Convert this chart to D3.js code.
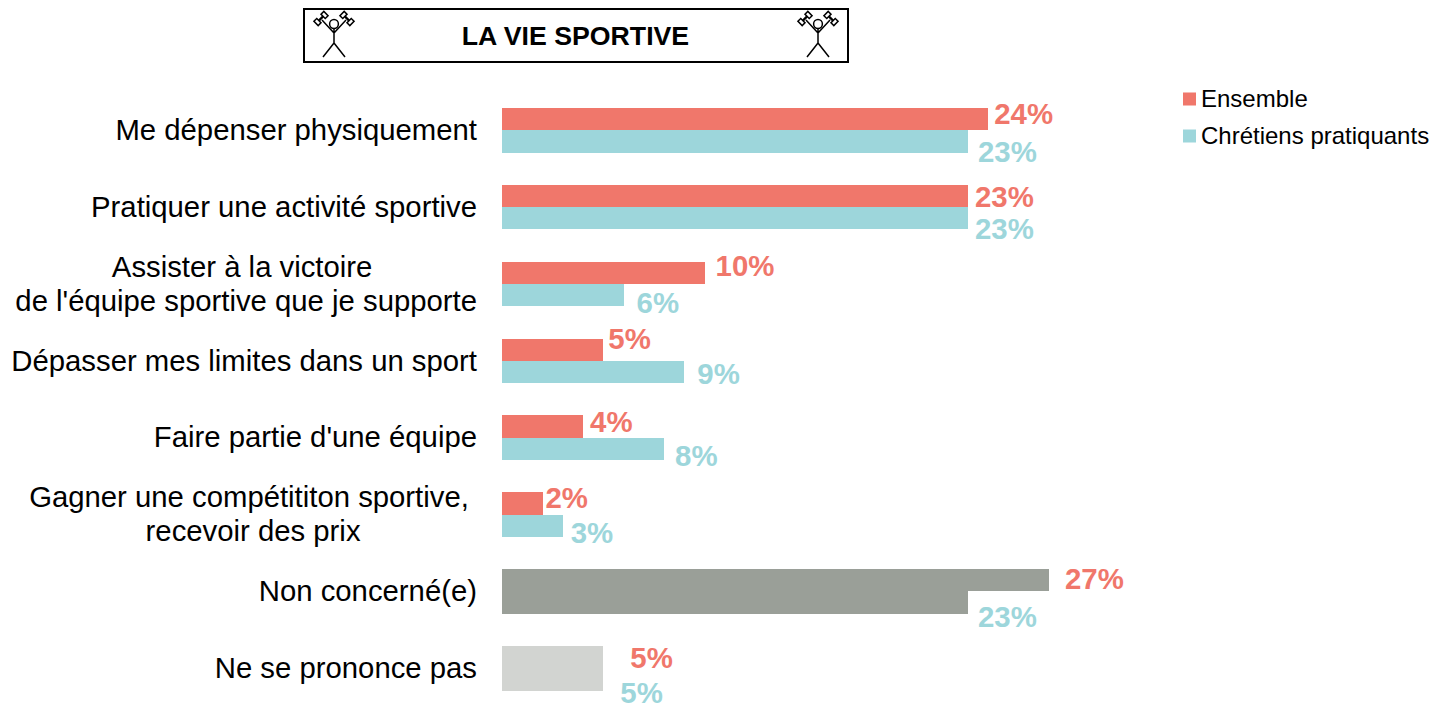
<!DOCTYPE html>
<html>
<head>
<meta charset="utf-8">
<script src="https://cdn.jsdelivr.net/npm/d3@7"></script>
<style>
  html, body { margin: 0; padding: 0; background: #fff; }
  text { font-family: "Liberation Sans", Arial, sans-serif; white-space: pre; }
</style>
</head>
<body>
<div id="chart"></div>
<script>
// Each inner list is one line of the label. Trailing space is in the original wrap.
const categories = [
  ["Me dépenser physiquement"],
  ["Pratiquer une activité sportive"],
  ["Assister à la victoire ", "de l'équipe sportive que je supporte"],
  ["Dépasser mes limites dans un sport"],
  ["Faire partie d'une équipe"],
  ["Gagner une compétititon sportive, ", "recevoir des prix"],
  ["Non concerné(e)"],
  ["Ne se prononce pas"]
];
const seriesNames = ["Ensemble", "Chrétiens pratiquants"];
const ensemble = [24, 23, 10, 5, 4, 2, 27, 5];
const pratiquants = [23, 23, 6, 9, 8, 3, 23, 5];
const title = "LA VIE SPORTIVE";

const width = 1433, height = 704;
const red = "#f0776b", teal = "#9dd6db";
const seriesColors = [red, teal];
// the last two rows are neutral answers, their bars are grey
const rowFill = {6: "#9a9f98", 7: "#d2d4d1"};

// hand placed value labels, same as the original [dx from bar end, dy from bar middle]
const nudges = [
  [[6, -5], [10, 10]],
  [[7, 1], [7, 10]],
  [[11, -7], [13, 8]],
  [[5, -11], [13, 2]],
  [[7, -5], [11, 7]],
  [[3, -6], [8, 7]],
  [[16, -2], [10, 14]],
  [[27, 1], [17, 13]]
];

const x = d3.scaleLinear().domain([0, 27]).range([502, 1049]);
const y = d3.scaleBand().domain(d3.range(categories.length)).range([108, 690.6]).paddingInner(0.42);
const ySub = d3.scaleBand().domain([0, 1]).range([0, y.bandwidth()]);

const svg = d3.select("#chart").append("svg")
    .attr("width", width)
    .attr("height", height)
    .style("display", "block");

// title box
svg.append("rect")
    .attr("x", 304).attr("y", 9)
    .attr("width", 544).attr("height", 53)
    .attr("fill", "none")
    .attr("stroke", "#000")
    .attr("stroke-width", 2);

svg.append("text")
    .attr("x", 575.5).attr("y", 36)
    .attr("dy", "0.35em")
    .attr("text-anchor", "middle")
    .attr("font-size", 26.7)
    .attr("font-weight", "bold")
    .text(title);

// little weightlifter on both sides of the title
function drawLifter(g) {
  g.attr("fill", "none").attr("stroke", "#000").attr("stroke-width", 1.5);
  g.append("circle").attr("r", 4.4);
  g.append("path").attr("d", "M0,4.4V19M0,19L-11,33M0,19L11,33M0,9L-12,-4M0,9L12,-4");
  [-1, 1].forEach(side => {
    const bell = g.append("g").attr("transform", `translate(${side * 13},-5.5) rotate(${side * 45})`);
    bell.append("path").attr("d", "M-3,0H3").attr("stroke-width", 2.2);
    [-5, 5].forEach(dx => {
      bell.append("rect")
          .attr("x", dx - 2).attr("y", -3)
          .attr("width", 4).attr("height", 6)
          .attr("fill", "#fff");
    });
  });
}
svg.append("g").attr("transform", "translate(334,24)").call(drawLifter);
svg.append("g").attr("transform", "translate(818,24)").call(drawLifter);

// bars
const rows = svg.append("g")
  .selectAll("g")
  .data(categories)
  .join("g")
    .attr("transform", (d, i) => `translate(0,${y(i)})`);

rows.selectAll("rect")
  .data((d, i) => [ensemble[i], pratiquants[i]].map((v, s) => ({v, s, row: i})))
  .join("rect")
    .attr("x", x(0))
    .attr("y", d => ySub(d.s))
    .attr("width", d => x(d.v) - x(0))
    .attr("height", ySub.bandwidth())
    .attr("shape-rendering", "crispEdges")
    .attr("fill", d => rowFill[d.row] || seriesColors[d.s]);

// value labels
rows.selectAll("text.value")
  .data((d, i) => [ensemble[i], pratiquants[i]].map((v, s) => ({v, s, row: i})))
  .join("text")
    .attr("class", "value")
    .attr("x", d => x(d.v) + nudges[d.row][d.s][0])
    .attr("y", d => ySub(d.s) + ySub.bandwidth() / 2 + nudges[d.row][d.s][1])
    .attr("dy", "0.35em")
    .attr("font-size", 29.4)
    .attr("font-weight", "bold")
    .attr("fill", d => seriesColors[d.s])
    .text(d => d.v + "%");

// category labels, wrapped ones are centered as a block against the right edge
const labelRight = 477, lineHeight = 34, labelSize = 29.3;
const labels = svg.append("g")
    .attr("font-size", labelSize)
    .attr("fill", "#000")
  .selectAll("text")
  .data(categories)
  .join("text")
    .attr("y", (d, i) => y(i) + y.bandwidth() / 2 - 0.5);

labels.each(function(lines) {
  const label = d3.select(this);
  const spans = label.selectAll("tspan")
    .data(lines)
    .join("tspan")
      .attr("dy", (d, j) => j === 0 ? `${0.35 * labelSize - (lines.length - 1) * lineHeight / 2}px` : `${lineHeight}px`)
      .text(d => d);
  const widest = d3.max(spans.nodes(), n => n.getComputedTextLength());
  label.attr("text-anchor", lines.length > 1 ? "middle" : "end");
  spans.attr("x", lines.length > 1 ? labelRight - widest / 2 : labelRight);
});

// legend
const legend = svg.append("g")
  .selectAll("g")
  .data(seriesNames)
  .join("g")
    .attr("transform", (d, i) => `translate(1183,${99 + i * 37})`);

legend.append("rect")
    .attr("y", -6.5)
    .attr("width", 13).attr("height", 13)
    .attr("fill", (d, i) => seriesColors[i]);

legend.append("text")
    .attr("x", 18)
    .attr("dy", "0.35em")
    .attr("font-size", 24)
    .text(d => d);
</script>
</body>
</html>
